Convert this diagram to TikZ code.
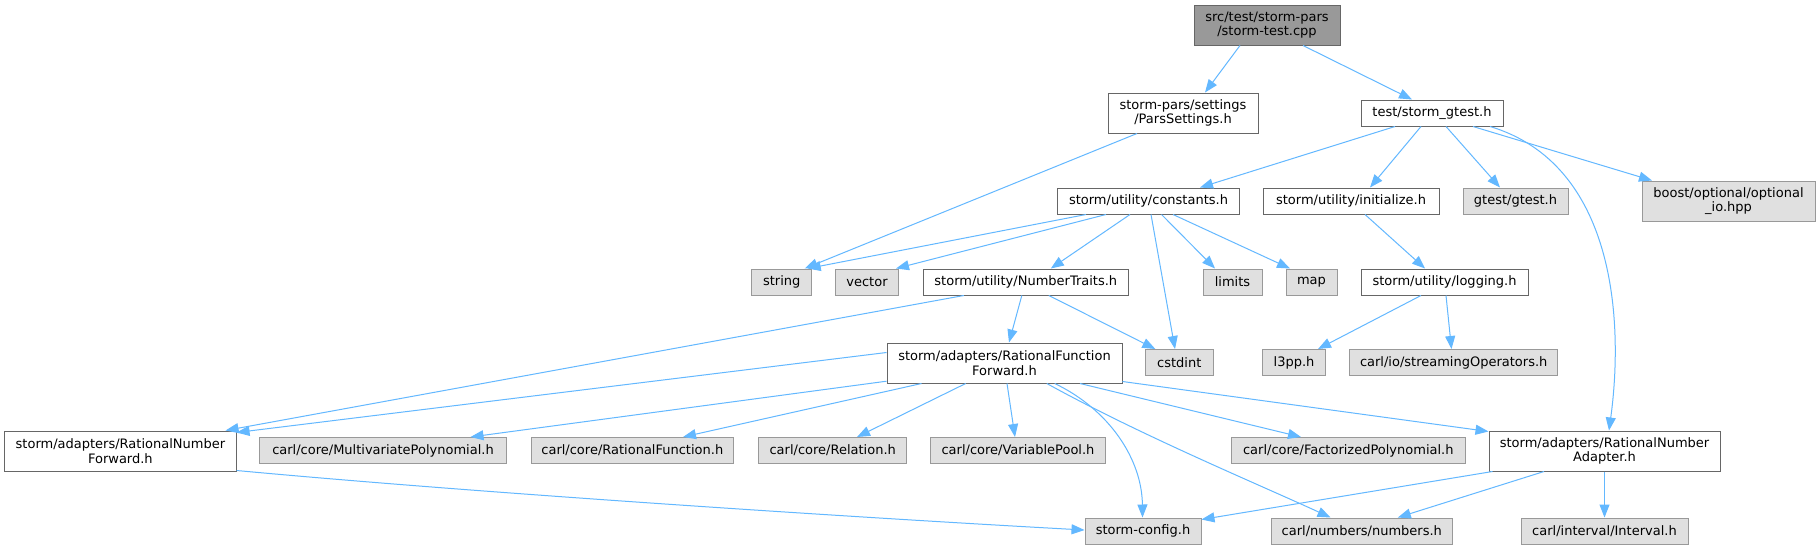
\documentclass[tikz,border=0pt]{standalone}
\usepackage{fontspec}
\setmainfont{DejaVu Sans}
\usetikzlibrary{arrows.meta}
\definecolor{edgeblue}{HTML}{63B8FF}
\definecolor{nodeborder}{HTML}{666666}
\definecolor{grayborder}{HTML}{999999}
\definecolor{grayfill}{HTML}{E0E0E0}
\definecolor{rootfill}{HTML}{999999}
\begin{document}
\begin{tikzpicture}[x=1pt,y=-1pt,
  base/.style={draw, line width=1pt, inner sep=0pt, align=center, font=\fontsize{13}{14.5}\selectfont, text=black},
  wnode/.style={base, draw=nodeborder, fill=white},
  gnode/.style={base, draw=grayborder, fill=grayfill},
  rootnode/.style={base, draw=nodeborder, fill=rootfill},
  one/.style={minimum height=26pt},
  two/.style={minimum height=40pt},
  edge/.style={draw=edgeblue, line width=1pt, -{Triangle[length=13pt,width=10pt]}}]
\fill[white] (0,0) rectangle (1820,549);
\useasboundingbox (0,0) rectangle (1820,549);
% nodes
\node[rootnode, two, minimum width=146pt] (root) at (1267,25) {src/test/storm-pars\\/storm-test.cpp};
\node[wnode, two, minimum width=150pt] (pars) at (1183,113) {storm-pars/settings\\/ParsSettings.h};
\node[wnode, one, minimum width=142pt] (gtestH) at (1432,113) {test/storm\_gtest.h};
\node[wnode, one, minimum width=182pt] (const) at (1148.5,201) {storm/utility/constants.h};
\node[wnode, one, minimum width=176pt] (init) at (1351,201) {storm/utility/initialize.h};
\node[gnode, one, minimum width=105pt] (gtest) at (1515.5,201) {gtest/gtest.h};
\node[gnode, two, minimum width=173pt] (boost) at (1728.5,201) {boost/optional/optional\\\_io.hpp};
\node[gnode, one, minimum width=59.5pt] (string) at (781.7,282) {string};
\node[gnode, one, minimum width=63pt] (vector) at (867,282) {vector};
\node[wnode, one, minimum width=205.6pt] (numtr) at (1025.8,282) {storm/utility/NumberTraits.h};
\node[gnode, one, minimum width=59pt] (limits) at (1232.5,282) {limits};
\node[gnode, one, minimum width=51pt] (map) at (1311.5,282) {map};
\node[wnode, one, minimum width=167pt] (logging) at (1444.5,282) {storm/utility/logging.h};
\node[wnode, two, minimum width=235pt] (rff) at (1004.5,363) {storm/adapters/RationalFunction\\Forward.h};
\node[gnode, one, minimum width=67.4pt] (cstdint) at (1179.3,362.5) {cstdint};
\node[gnode, one, minimum width=63.5pt] (l3pp) at (1294,362.5) {l3pp.h};
\node[gnode, one, minimum width=208.5pt] (stream) at (1453.7,362.5) {carl/io/streamingOperators.h};
\node[wnode, two, minimum width=231.3pt] (rnf) at (120.4,451) {storm/adapters/RationalNumber\\Forward.h};
\node[gnode, one, minimum width=247pt] (multi) at (383,450.5) {carl/core/MultivariatePolynomial.h};
\node[gnode, one, minimum width=202.6pt] (ratfun) at (632.3,450.5) {carl/core/RationalFunction.h};
\node[gnode, one, minimum width=148.2pt] (relation) at (832.7,450.5) {carl/core/Relation.h};
\node[gnode, one, minimum width=174.7pt] (varpool) at (1018,450.5) {carl/core/VariablePool.h};
\node[gnode, one, minimum width=233.4pt] (factor) at (1348.3,450.5) {carl/core/FactorizedPolynomial.h};
\node[wnode, two, minimum width=231pt] (adapter) at (1604.5,451) {storm/adapters/RationalNumber\\Adapter.h};
\node[gnode, one, minimum width=116pt] (config) at (1143,531) {storm-config.h};
\node[gnode, one, minimum width=180.4pt] (numbers) at (1361.8,531) {carl/numbers/numbers.h};
\node[gnode, one, minimum width=167pt] (interval) at (1604.5,531) {carl/interval/Interval.h};
% edges
\draw[edge] ([xshift=-27pt]root.south) -- ([xshift=22pt]pars.north);
\draw[edge] ([xshift=36pt]root.south) -- ([xshift=-20pt]gtestH.north);
\draw[edge] ([xshift=-46pt]pars.south) -- ([xshift=23pt]string.north);
\draw[edge] ([xshift=-37pt]gtestH.south) -- ([xshift=51.5pt]const.north);
\draw[edge] ([xshift=-11pt]gtestH.south) -- ([xshift=19pt]init.north);
\draw[edge] ([xshift=14pt]gtestH.south) -- ([xshift=-15.5pt]gtest.north);
\draw[edge] ([xshift=41pt]gtestH.south) -- ([xshift=-76.5pt]boost.north);
\draw[edge] ([xshift=58pt]gtestH.south) .. controls (1615,164) and (1624,320) .. ([xshift=4.5pt]adapter.north);
\draw[edge] ([xshift=-62.5pt]const.south) -- ([xshift=26pt]string.north);
\draw[edge] ([xshift=-42.5pt]const.south) -- ([xshift=-3pt]vector.north east);
\draw[edge] ([xshift=-18.5pt]const.south) -- ([xshift=25pt]numtr.north);
\draw[edge] ([xshift=2.5pt]const.south) -- ([xshift=-4.3pt]cstdint.north);
\draw[edge] ([xshift=13pt]const.south) -- ([xshift=-17.5pt]limits.north);
\draw[edge] ([xshift=24.5pt]const.south) -- ([xshift=-21.5pt]map.north);
\draw[edge] ([xshift=14pt]init.south) -- ([xshift=-19.5pt]logging.north);
\draw[edge] ([xshift=-23.5pt]logging.south) -- ([xshift=24pt]l3pp.north);
\draw[edge] ([xshift=1.5pt]logging.south) -- ([xshift=-2.2pt]stream.north);
\draw[edge] ([xshift=-4pt]numtr.south) -- ([xshift=4.5pt]rff.north);
\draw[edge] ([xshift=23pt]numtr.south) -- ([xshift=-24pt]cstdint.north);
\draw[edge] ([xshift=-62pt]numtr.south) -- ([xshift=-11pt]rnf.north east);
\draw[edge] ([yshift=-10pt]rff.north west) -- ([yshift=-2pt]rnf.north east);
\draw[edge] ([yshift=2.3pt]rff.south west) -- ([xshift=87.5pt]multi.north);
\draw[edge] ([xshift=35pt]rff.south west) -- ([xshift=50.7pt]ratfun.north);
\draw[edge] ([xshift=-38.8pt]rff.south) -- ([xshift=24.3pt]relation.north);
\draw[edge] ([xshift=2.5pt]rff.south) -- ([xshift=-3pt]varpool.north);
\draw[edge] ([xshift=50.2pt]rff.south) .. controls (1110,410) and (1142,460) .. ([xshift=-0.5pt]config.north);
\draw[edge] ([xshift=42.3pt]rff.south) .. controls (1140,435) and (1260,485) .. ([xshift=-31.3pt]numbers.north);
\draw[edge] ([xshift=75.5pt]rff.south) -- ([xshift=-47.3pt]factor.north);
\draw[edge] ([yshift=2pt]rff.south east) -- ([yshift=-1pt]adapter.north west);
\draw[edge] ([yshift=1pt]rnf.south east) .. controls (500,495) and (900,520) .. ([yshift=1pt]config.west);
\draw[edge] ([xshift=4pt]adapter.south west) -- ([yshift=-2pt]config.north east);
\draw[edge] ([xshift=-60.5pt]adapter.south) -- ([xshift=36pt]numbers.north);
\draw[edge] (adapter.south) -- (interval.north);
\end{tikzpicture}
\end{document}
